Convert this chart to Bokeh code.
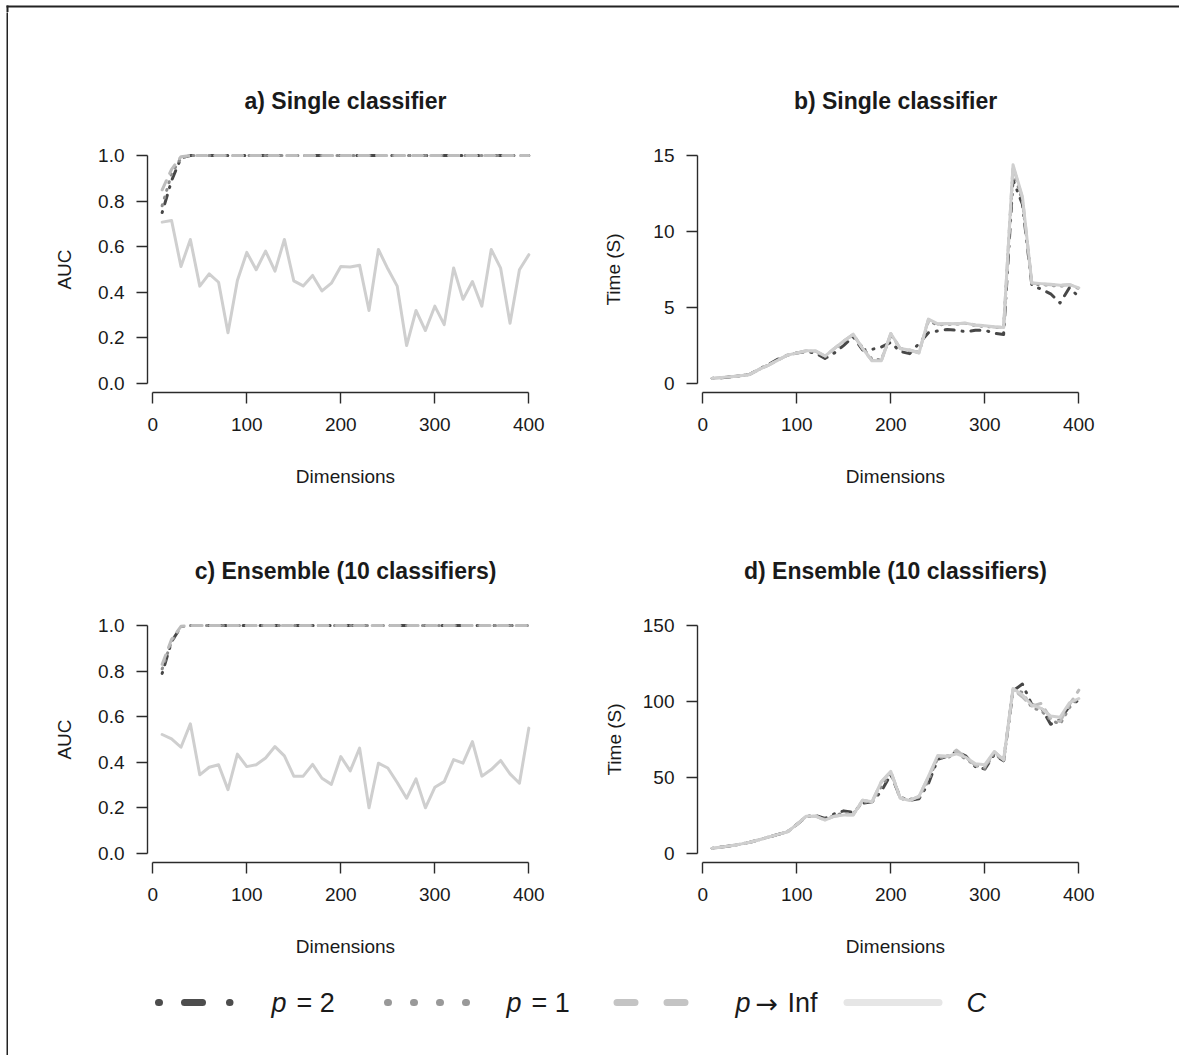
from bokeh.plotting import figure
from bokeh.layouts import row, column
from bokeh.models import Range1d, FixedTicker, PrintfTickFormatter, Spacer
from bokeh.embed import file_html
from bokeh.resources import INLINE
from bokeh.core.properties import value

FONT = "Liberation Sans"

dims = [10, 20, 30, 40, 50, 60, 70, 80, 90, 100, 110, 120, 130, 140, 150, 160, 170, 180, 190, 200,
        210, 220, 230, 240, 250, 260, 270, 280, 290, 300, 310, 320, 330, 340, 350, 360, 370, 380, 390, 400]

# a) AUC, single classifier
auc_single_p2 = [0.75, 0.89, 0.99, 1.0, 1.0, 1.0, 1.0, 1.0, 1.0, 1.0, 1.0, 1.0, 1.0, 1.0, 1.0, 1.0, 1.0, 1.0, 1.0, 1.0,
                 1.0, 1.0, 1.0, 1.0, 1.0, 1.0, 1.0, 1.0, 1.0, 1.0, 1.0, 1.0, 1.0, 1.0, 1.0, 1.0, 1.0, 1.0, 1.0, 1.0]
auc_single_p1 = [0.78, 0.92, 0.99, 1.0, 1.0, 1.0, 1.0, 1.0, 1.0, 1.0, 1.0, 1.0, 1.0, 1.0, 1.0, 1.0, 1.0, 1.0, 1.0, 1.0,
                 1.0, 1.0, 1.0, 1.0, 1.0, 1.0, 1.0, 1.0, 1.0, 1.0, 1.0, 1.0, 1.0, 1.0, 1.0, 1.0, 1.0, 1.0, 1.0, 1.0]
auc_single_pinf = [0.85, 0.94, 0.995, 1.0, 1.0, 1.0, 1.0, 1.0, 1.0, 1.0, 1.0, 1.0, 1.0, 1.0, 1.0, 1.0, 1.0, 1.0, 1.0, 1.0,
                   1.0, 1.0, 1.0, 1.0, 1.0, 1.0, 1.0, 1.0, 1.0, 1.0, 1.0, 1.0, 1.0, 1.0, 1.0, 1.0, 1.0, 1.0, 1.0, 1.0]
auc_single_c = [0.708, 0.715, 0.513, 0.632, 0.427, 0.481, 0.444, 0.222, 0.452, 0.575,
                0.499, 0.581, 0.493, 0.632, 0.450, 0.428, 0.474, 0.406, 0.440, 0.513,
                0.511, 0.519, 0.320, 0.588, 0.503, 0.427, 0.166, 0.320, 0.232, 0.339,
                0.258, 0.507, 0.369, 0.447, 0.339, 0.588, 0.506, 0.264, 0.499, 0.565]

# b) Time, single classifier
time_single_p2 = [0.33, 0.37, 0.43, 0.50, 0.60, 0.95, 1.25, 1.60, 1.85, 2.00,
                  2.10, 2.00, 1.64, 2.00, 2.50, 3.07, 2.20, 2.24, 2.40, 2.70,
                  2.10, 1.96, 2.63, 3.33, 3.46, 3.55, 3.50, 3.40, 3.50, 3.50,
                  3.30, 3.22, 13.40, 11.80, 6.47, 6.20, 5.90, 5.30, 6.30, 5.70]
time_single_p1 = [0.33, 0.38, 0.44, 0.50, 0.60, 0.93, 1.22, 1.55, 1.85, 2.00,
                  2.12, 2.10, 1.75, 2.25, 2.75, 3.20, 2.35, 1.60, 1.55, 3.20,
                  2.30, 2.15, 2.05, 4.10, 3.85, 3.90, 3.90, 3.95, 3.80, 3.75,
                  3.70, 3.65, 14.10, 12.00, 6.55, 6.50, 6.45, 6.40, 6.45, 6.25]
time_single_pinf = [0.33, 0.38, 0.43, 0.50, 0.59, 0.92, 1.20, 1.53, 1.86, 2.00,
                    2.15, 2.12, 1.80, 2.30, 2.80, 3.22, 2.30, 1.50, 1.50, 3.28,
                    2.30, 2.20, 2.02, 4.20, 3.90, 3.95, 3.92, 3.97, 3.85, 3.80,
                    3.72, 3.68, 14.30, 12.20, 6.60, 6.55, 6.50, 6.45, 6.50, 6.30]
time_single_c = [0.33, 0.38, 0.43, 0.50, 0.59, 0.92, 1.20, 1.53, 1.86, 2.00,
                 2.15, 2.15, 1.80, 2.30, 2.80, 3.24, 2.30, 1.49, 1.49, 3.29,
                 2.30, 2.20, 2.00, 4.23, 3.92, 3.95, 3.92, 3.97, 3.83, 3.80,
                 3.73, 3.68, 14.40, 12.30, 6.62, 6.57, 6.53, 6.47, 6.50, 6.29]

# c) AUC, ensemble
auc_ens_p2 = [0.79, 0.93, 0.995, 1.0, 1.0, 1.0, 1.0, 1.0, 1.0, 1.0, 1.0, 1.0, 1.0, 1.0, 1.0, 1.0, 1.0, 1.0, 1.0, 1.0,
              1.0, 1.0, 1.0, 1.0, 1.0, 1.0, 1.0, 1.0, 1.0, 1.0, 1.0, 1.0, 1.0, 1.0, 1.0, 1.0, 1.0, 1.0, 1.0, 1.0]
auc_ens_p1 = [0.81, 0.93, 0.995, 1.0, 1.0, 1.0, 1.0, 1.0, 1.0, 1.0, 1.0, 1.0, 1.0, 1.0, 1.0, 1.0, 1.0, 1.0, 1.0, 1.0,
              1.0, 1.0, 1.0, 1.0, 1.0, 1.0, 1.0, 1.0, 1.0, 1.0, 1.0, 1.0, 1.0, 1.0, 1.0, 1.0, 1.0, 1.0, 1.0, 1.0]
auc_ens_pinf = [0.83, 0.94, 0.997, 1.0, 1.0, 1.0, 1.0, 1.0, 1.0, 1.0, 1.0, 1.0, 1.0, 1.0, 1.0, 1.0, 1.0, 1.0, 1.0, 1.0,
                1.0, 1.0, 1.0, 1.0, 1.0, 1.0, 1.0, 1.0, 1.0, 1.0, 1.0, 1.0, 1.0, 1.0, 1.0, 1.0, 1.0, 1.0, 1.0, 1.0]
auc_ens_c = [0.522, 0.503, 0.466, 0.569, 0.345, 0.378, 0.389, 0.280, 0.436, 0.381,
             0.389, 0.419, 0.469, 0.428, 0.339, 0.339, 0.391, 0.330, 0.303, 0.425,
             0.362, 0.462, 0.200, 0.396, 0.375, 0.311, 0.242, 0.327, 0.200, 0.290,
             0.315, 0.412, 0.396, 0.491, 0.339, 0.368, 0.408, 0.349, 0.308, 0.550]

# d) Time, ensemble
time_ens_p2 = [3.3, 4.2, 5.0, 6.1, 7.3, 9.0, 10.7, 12.5, 14.2, 19.0,
               24.0, 25.0, 23.0, 26.0, 28.0, 27.0, 33.0, 34.0, 41.0, 52.0,
               37.0, 35.0, 36.0, 46.0, 62.0, 64.0, 67.0, 64.0, 57.0, 55.5,
               65.0, 61.0, 107.0, 111.5, 98.0, 96.0, 85.0, 88.0, 97.0, 101.0]
time_ens_p1 = [3.3, 4.2, 5.0, 6.1, 7.3, 9.0, 10.7, 12.5, 14.2, 19.0,
               24.5, 24.8, 22.5, 25.0, 26.5, 26.0, 34.0, 33.5, 44.0, 53.0,
               36.0, 35.5, 37.0, 48.0, 63.0, 63.0, 66.0, 62.0, 58.0, 56.0,
               66.0, 60.5, 108.0, 106.0, 96.0, 94.0, 88.0, 85.0, 96.0, 103.0]
time_ens_pinf = [3.3, 4.2, 5.0, 6.1, 7.3, 9.0, 10.7, 12.5, 14.2, 19.0,
                 24.5, 24.5, 22.0, 24.5, 25.5, 25.5, 35.0, 34.0, 47.0, 54.0,
                 36.5, 35.0, 37.5, 50.0, 64.0, 64.0, 68.0, 63.0, 58.0, 57.0,
                 67.0, 61.5, 108.0, 103.0, 97.0, 98.8, 89.0, 86.8, 98.0, 107.5]
time_ens_c = [3.3, 4.2, 5.0, 6.1, 7.3, 9.0, 10.7, 12.5, 14.2, 19.0,
              24.5, 24.5, 21.9, 24.5, 25.2, 25.2, 35.0, 34.0, 47.4, 54.0,
              36.5, 34.8, 37.6, 50.7, 64.5, 63.8, 65.6, 63.2, 59.0, 58.4,
              67.1, 61.6, 108.6, 104.3, 97.7, 95.5, 90.5, 89.6, 99.2, 102.0]

titles = ["a) Single classifier", "b) Single classifier",
          "c) Ensemble (10 classifiers)", "d) Ensemble (10 classifiers)"]
legend_sym = ["p", "p", "p", "C"]
legend_rest = ["= 2", "= 1", "Inf", ""]
legend_arrow = "\u2192"

STYLES = {
    "p2": dict(line_color="#474747", line_width=3, line_dash="1 8 9 8"),
    "p1": dict(line_color="#8e8e8e", line_width=3, line_dash="1 7"),
    "pinf": dict(line_color="#bdbdbd", line_width=3, line_dash="10 8"),
    "c": dict(line_color="#cfcfcf", line_width=3, line_dash="solid"),
}

TXT = "#1a1a1a"
AX = "#2b2b2b"


def make_panel(title, ylab, ylim, yticks, fmt, series, ml, mr, mt, mb, ylab_standoff):
    lo, hi = ylim
    pad = (hi - lo) * 0.04
    p = figure(frame_width=396, frame_height=246,
               min_border_left=ml, min_border_right=mr, min_border_top=mt, min_border_bottom=mb,
               x_range=Range1d(-5.6, 415.6), y_range=Range1d(lo - pad, hi + pad),
               toolbar_location=None, output_backend="svg", title=title)
    p.outline_line_color = None
    p.xgrid.grid_line_color = None
    p.ygrid.grid_line_color = None
    p.background_fill_color = "white"
    p.border_fill_color = "white"
    p.title.align = "center"
    p.title.text_font = FONT
    p.title.text_font_size = "23px"
    p.title.text_font_style = "bold"
    p.title.text_color = TXT
    p.title.standoff = 66
    for key, ys in series:
        p.line(dims, ys, line_cap="round", line_join="round", **STYLES[key])

    xa = p.xaxis[0]
    xa.ticker = FixedTicker(ticks=[0, 100, 200, 300, 400])
    xa.bounds = (0, 400)
    ya = p.yaxis[0]
    ya.ticker = FixedTicker(ticks=yticks)
    ya.bounds = (lo, hi)
    ya.formatter = PrintfTickFormatter(format=fmt)
    for ax in (xa, ya):
        ax.axis_line_color = AX
        ax.axis_line_width = 1.4
        ax.major_tick_line_color = AX
        ax.major_tick_line_width = 1.4
        ax.major_tick_in = 0
        ax.major_tick_out = 11
        ax.minor_tick_line_color = None
        ax.major_label_text_font = FONT
        ax.major_label_text_font_size = "19px"
        ax.major_label_text_color = TXT
        ax.axis_label_text_font = FONT
        ax.axis_label_text_font_size = "19px"
        ax.axis_label_text_font_style = "normal"
        ax.axis_label_text_color = TXT
    xa.axis_label = "Dimensions"
    xa.major_label_standoff = 14
    xa.axis_label_standoff = 32
    ya.axis_label = ylab
    ya.major_label_standoff = 12
    ya.axis_label_standoff = ylab_standoff
    return p


pa = make_panel(titles[0], "AUC", (0, 1), [0, 0.2, 0.4, 0.6, 0.8, 1.0], "%.1f",
                [("p2", auc_single_p2), ("p1", auc_single_p1), ("pinf", auc_single_pinf), ("c", auc_single_c)],
                139, 57, 134, 108, 20)
pb = make_panel(titles[1], "Time (S)", (0, 15), [0, 5, 10, 15], "%d",
                [("p2", time_single_p2), ("p1", time_single_p1), ("pinf", time_single_pinf), ("c", time_single_c)],
                95, 72, 134, 108, 26)
pc = make_panel(titles[2], "AUC", (0, 1), [0, 0.2, 0.4, 0.6, 0.8, 1.0], "%.1f",
                [("p2", auc_ens_p2), ("p1", auc_ens_p1), ("pinf", auc_ens_pinf), ("c", auc_ens_c)],
                139, 57, 116, 100, 20)
pd_ = make_panel(titles[3], "Time (S)", (0, 150), [0, 50, 100, 150], "%d",
                 [("p2", time_ens_p2), ("p1", time_ens_p1), ("pinf", time_ens_pinf), ("c", time_ens_c)],
                 95, 72, 116, 100, 15)

# legend strip (screen-like coordinates, y downward)
LW, LH = 1171, 93
lg = figure(width=LW, height=LH, x_range=Range1d(0, LW), y_range=Range1d(LH, 0),
            min_border=0, toolbar_location=None, output_backend="svg", title=None)
lg.axis.visible = False
lg.xgrid.grid_line_color = None
lg.ygrid.grid_line_color = None
lg.outline_line_color = None
ly = 40
ox = 8
lg.line([158 - ox, 229.5 - ox], [ly, ly], line_color="#4d4d4d", line_width=7, line_cap="round",
        line_dash="1 25 18 27")
lg.line([387 - ox, 466.5 - ox], [ly, ly], line_color="#999999", line_width=7, line_cap="round",
        line_dash="1 25")
lg.line([616.5 - ox, 685 - ox], [ly, ly], line_color="#c4c4c4", line_width=7, line_cap="round",
        line_dash="18 32")
lg.line([846.5 - ox, 938.5 - ox], [ly, ly], line_color="#e6e6e6", line_width=7, line_cap="round")
sym_x = [271 - ox, 506 - ox, 735 - ox, 966 - ox]
rest_x = [296 - ox, 531 - ox, 787 - ox, 990 - ox]
lg.text(x=sym_x, y=[ly] * 4, text=legend_sym, text_font=value(FONT),
        text_font_style="italic", text_font_size="27px", text_baseline="middle", text_align="left",
        text_color=TXT)
lg.text(x=rest_x, y=[ly] * 4, text=legend_rest, text_font=value(FONT),
        text_font_size="27px", text_baseline="middle", text_align="left", text_color=TXT)
lg.text(x=[755 - ox], y=[ly + 1], text=[legend_arrow], text_font=value("DejaVu Sans"),
        text_font_size="27px", text_baseline="middle", text_align="left", text_color=TXT)


def bar(w, h):
    f = figure(width=w, height=h, min_border=0, toolbar_location=None, output_backend="svg",
               background_fill_color="#222222", border_fill_color="#222222", title=None)
    f.axis.visible = False
    f.xgrid.grid_line_color = None
    f.ygrid.grid_line_color = None
    f.outline_line_color = None
    return f


# top strip holding the page frame's top edge (screen-like coordinates)
strip = figure(width=1179, height=12, x_range=Range1d(0, 1179), y_range=Range1d(12, 0),
               min_border=0, toolbar_location=None, output_backend="svg", title=None)
strip.axis.visible = False
strip.xgrid.grid_line_color = None
strip.ygrid.grid_line_color = None
strip.outline_line_color = None
strip.quad(left=[6, 6], right=[1179, 8], top=[5, 5], bottom=[7, 12], fill_color="#222222", line_color=None)

content = column(row(pa, pb), row(pc, pd_), lg)
root = column(strip, row(Spacer(width=6, height=10), bar(2, 1043), content))

open("out.html", "w").write(file_html(root, INLINE))
